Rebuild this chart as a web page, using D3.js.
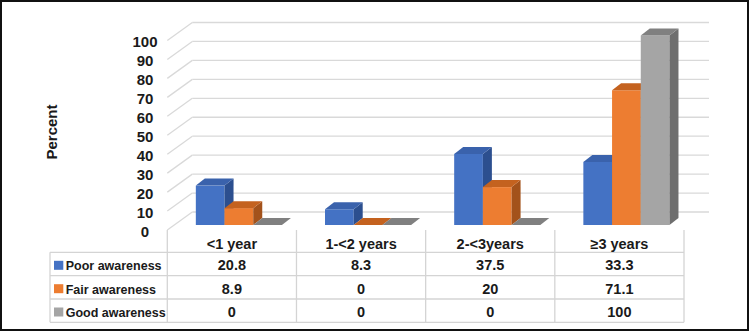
<!DOCTYPE html>
<head>
    <meta charset="utf-8">
    <script src="https://d3js.org/d3.v7.min.js"></script>
    <style>
        body { margin: 0; background: #fff; }
        text { font-family: "Liberation Sans", Arial, sans-serif; font-weight: bold; fill: #1a1a1a; }
    </style>
</head>
<body>
    <svg id="chart" width="750" height="333"></svg>
    <script>
        // data
        var categories = ["<1 year", "1-<2 years", "2-<3years", "\u22653 years"];
        var seriesNames = ["Poor awareness", "Fair awareness", "Good awareness"];
        var poor = [20.8, 8.3, 37.5, 33.3];
        var fair = [8.9, 0, 20, 71.1];
        var good = [0, 0, 0, 100];
        var yTicks = [0, 10, 20, 30, 40, 50, 60, 70, 80, 90, 100];

        var seriesValues = [poor, fair, good];
        // front, top, side colours for each series
        var colors = [
            { front: "#4472C4", top: "#3A62AC", side: "#2C4F8F" },
            { front: "#ED7D31", top: "#C4621F", side: "#A3521B" },
            { front: "#A5A5A5", top: "#808080", side: "#6E6E6E" }
        ];

        var svg = d3.select("#chart");

        // floor front plane scales
        var x0 = d3.scaleBand().domain(categories).range([167.3, 684]);
        var x1 = d3.scaleBand().domain(seriesNames).range([0, x0.bandwidth()]).paddingOuter(0.75);
        var y = d3.scaleLinear().domain([0, 100]).range([230, 40.5]);

        // depth offsets
        var wallDx = 25, wallDy = -18;   // floor front -> back wall
        var barDx = 7, barDy = -5;       // floor front -> bar front
        var depDx = 9, depDy = -7;       // bar front -> bar back

        // gridlines on back wall + left diagonals
        var grid = svg.append("g").attr("stroke", "#d9d9d9").attr("stroke-width", 1.3).attr("fill", "none");
        yTicks.forEach(function (t) {
            var yf = y(t);
            grid.append("line")
                .attr("x1", x0.range()[0] + wallDx).attr("x2", x0.range()[1] + wallDx)
                .attr("y1", yf + wallDy).attr("y2", yf + wallDy);
            grid.append("line")
                .attr("x1", x0.range()[0]).attr("y1", yf)
                .attr("x2", x0.range()[0] + wallDx).attr("y2", yf + wallDy);
        });

        // y tick labels
        svg.append("g").selectAll("text")
            .data(yTicks)
            .enter().append("text")
            .attr("x", 145)
            .attr("y", function (d) { return y(d) + 1; })
            .attr("text-anchor", "middle")
            .attr("dominant-baseline", "central")
            .style("font-size", "15px")
            .text(function (d) { return d; });

        svg.append("text")
            .attr("transform", "translate(57,132) rotate(-90)")
            .attr("text-anchor", "middle")
            .style("font-size", "15px")
            .text("Percent");

        // 3D bars
        var bars = svg.append("g");
        categories.forEach(function (c, ci) {
            seriesNames.forEach(function (s, si) {
                var v = seriesValues[si][ci];
                var col = colors[si];
                var xa = x0(c) + x1(s) + barDx, xb = xa + x1.bandwidth();
                var yb = y(0) + barDy, yt = y(v) + barDy;
                if (v > 0) {
                    bars.append("rect")
                        .attr("x", xa).attr("y", yt)
                        .attr("width", xb - xa).attr("height", yb - yt)
                        .attr("fill", col.front);
                    bars.append("polygon")
                        .attr("points", [[xb, yt], [xb + depDx, yt + depDy], [xb + depDx, yb + depDy], [xb, yb]].join(" "))
                        .attr("fill", col.side);
                }
                bars.append("polygon")
                    .attr("points", [[xa, yt], [xb, yt], [xb + depDx, yt + depDy], [xa + depDx, yt + depDy]].join(" "))
                    .attr("fill", col.top);
            });
        });

        // data table
        var rowTops = [252.3, 275.7, 299, 322.3];
        var tableLeft = 50;
        var table = svg.append("g").attr("stroke", "#d4d4d4").attr("stroke-width", 1.3);
        rowTops.forEach(function (ry) {
            table.append("line").attr("x1", tableLeft).attr("x2", x0.range()[1]).attr("y1", ry).attr("y2", ry);
        });
        table.append("line").attr("x1", tableLeft).attr("x2", tableLeft).attr("y1", rowTops[0]).attr("y2", rowTops[3]);
        categories.concat([null]).forEach(function (c, i) {
            var xx = i < categories.length ? x0(c) : x0.range()[1];
            table.append("line").attr("x1", xx).attr("x2", xx).attr("y1", y(0)).attr("y2", rowTops[3]);
        });

        // category header
        svg.append("g").selectAll("text")
            .data(categories)
            .enter().append("text")
            .attr("x", function (d) { return x0(d) + x0.bandwidth() / 2; })
            .attr("y", 248.5)
            .attr("text-anchor", "middle")
            .style("font-size", "14.5px")
            .text(function (d) { return d; });

        // rows
        seriesNames.forEach(function (s, si) {
            var base = rowTops[si] + 18;
            svg.append("rect")
                .attr("x", 54).attr("y", rowTops[si] + 8.5)
                .attr("width", 9.3).attr("height", 9)
                .attr("fill", colors[si].front);
            svg.append("text")
                .attr("x", 65.7).attr("y", base)
                .style("font-size", "12.5px")
                .text(s);
            svg.append("g").selectAll("text")
                .data(seriesValues[si])
                .enter().append("text")
                .attr("x", function (d, i) { return x0(categories[i]) + x0.bandwidth() / 2; })
                .attr("y", base)
                .attr("text-anchor", "middle")
                .style("font-size", "14.5px")
                .text(function (d) { return d; });
        });

        // outer frame
        svg.append("rect")
            .attr("x", 1).attr("y", 1).attr("width", 747).attr("height", 329)
            .attr("fill", "none").attr("stroke", "#111").attr("stroke-width", 2);
    </script>
</body>
